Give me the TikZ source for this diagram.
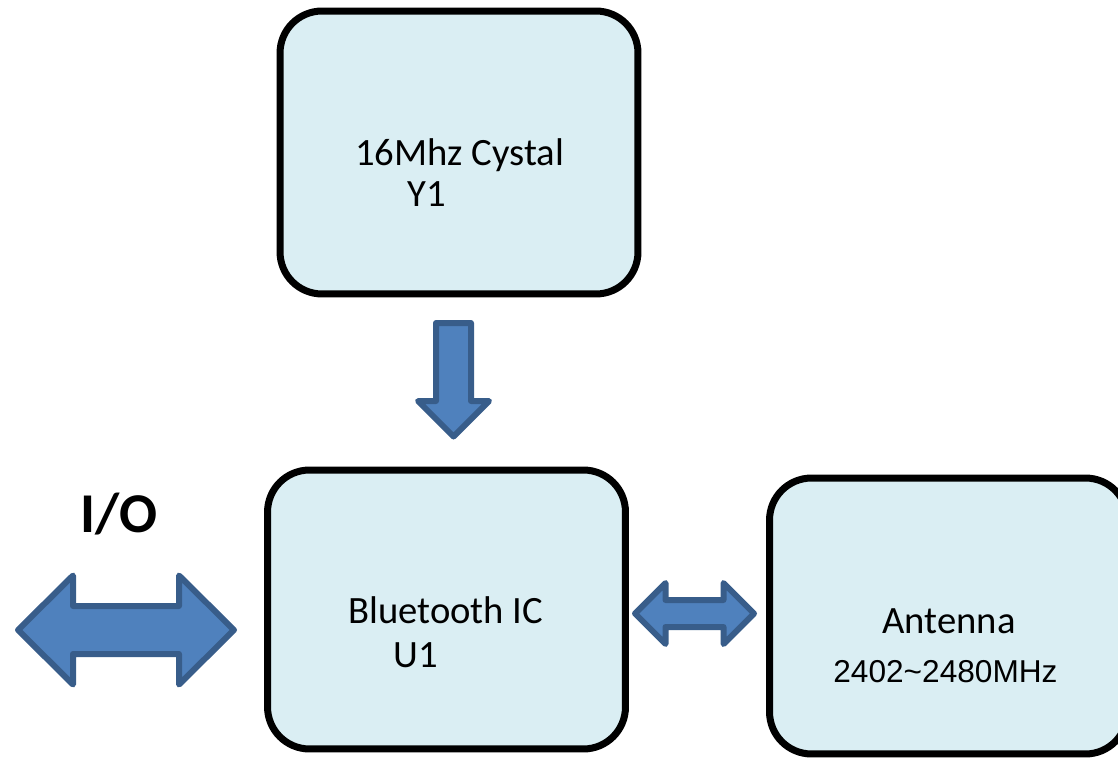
\documentclass[tikz,border=0pt]{standalone}
\usepackage{fontspec}
\setmainfont{Carlito}
\newfontfamily\arialfont{Liberation Sans}
\definecolor{boxfill}{HTML}{DAEEF3}
\definecolor{arrowfill}{HTML}{4F81BD}
\definecolor{arrowline}{HTML}{385D8A}
\begin{document}
\begin{tikzpicture}[x=0.02cm, y=-0.02cm,
    block/.style={draw=black, line width=0.14cm, fill=boxfill, rounded corners=0.84cm, minimum width=7.16cm},
    txt/.style={anchor=base west, inner sep=0pt, font=\fontsize{22}{26}\selectfont},
    fatarrow/.style={draw=arrowline, fill=arrowfill, line width=0.12cm, line join=round}]
    \useasboundingbox (0,0) rectangle (1118,760);
    \node[block, minimum height=5.66cm] (xtal) at (459,152.5) {};
    \node[block, minimum height=5.58cm] (btic) at (446.5,609.5) {};
    \node[block, minimum height=5.52cm] (ant) at (948.5,616) {};
    \node[txt] (xtaltxt) at (355,166) {16Mhz Cystal};
    \node[txt] (xtalref) at (407,207) {Y1};
    \node[txt] (btictxt) at (348,623) {Bluetooth IC};
    \node[txt] (bticref) at (393,667) {U1};
    \node[txt] (anttxt) at (882,633) {Antenna};
    \node[txt] (antfreq) at (833,682) {\arialfont\fontsize{18}{22}\selectfont 2402\char`~2480MHz};
    \node[txt, font=\bfseries\fontsize{32}{36}\selectfont] (iotxt) at (80,532) {I/O};
    \draw[fatarrow] (436,323) -- (471,323) -- (471,401) -- (489,401) -- (453.5,436.5)
      -- (418,401) -- (436,401) -- cycle;
    \draw[fatarrow] (18,630) -- (73,575.5) -- (73,606) -- (179,606) -- (179,575.5) -- (234,630)
      -- (179,684.5) -- (179,654) -- (73,654) -- (73,684.5) -- cycle;
    \draw[fatarrow] (635,613.5) -- (665.5,583) -- (665.5,600) -- (723.5,600) -- (723.5,583) -- (754,613.5)
      -- (723.5,644) -- (723.5,627) -- (665.5,627) -- (665.5,644) -- cycle;
\end{tikzpicture}
\end{document}
